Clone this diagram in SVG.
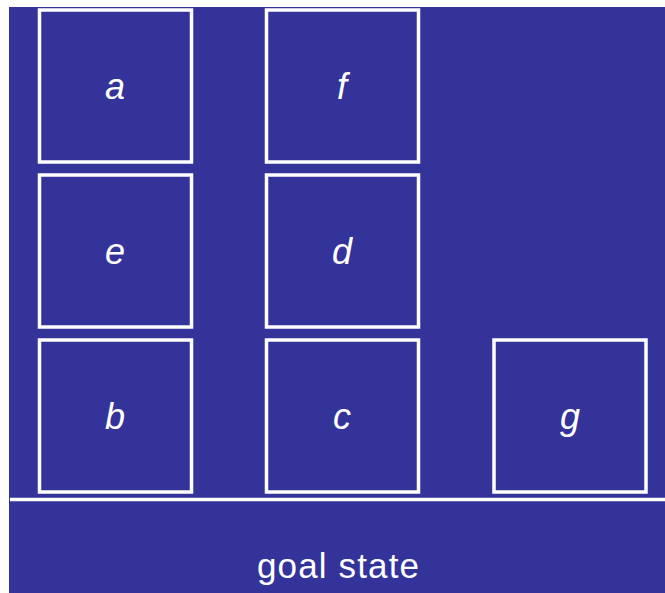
<svg xmlns="http://www.w3.org/2000/svg" width="665" height="593" viewBox="0 0 665 593">
<style>
.blk{fill:#333399;stroke:#ffffff;stroke-width:3.5}
.lbl{font-family:"Liberation Sans",Arial,sans-serif;font-style:italic;font-size:36px;fill:#ffffff;text-anchor:middle}
.cap{font-family:"Liberation Sans",Arial,sans-serif;font-size:35px;fill:#ffffff;text-anchor:middle}
</style>
<rect x="0" y="0" width="665" height="593" fill="#ffffff"/>
<rect x="9" y="7" width="656" height="586" fill="#333399"/>
<g id="a"><rect class="blk" x="39.5" y="10" width="152" height="152"/><text class="lbl" x="115" y="99">a</text></g>
<g id="f"><rect class="blk" x="266.5" y="10" width="152" height="152"/><text class="lbl" x="342" y="99">f</text></g>
<g id="e"><rect class="blk" x="39.5" y="175" width="152" height="152"/><text class="lbl" x="115" y="264">e</text></g>
<g id="d"><rect class="blk" x="266.5" y="175" width="152" height="152"/><text class="lbl" x="342" y="264">d</text></g>
<g id="b"><rect class="blk" x="39.5" y="340" width="152" height="152"/><text class="lbl" x="115" y="429">b</text></g>
<g id="c"><rect class="blk" x="266.5" y="340" width="152" height="152"/><text class="lbl" x="342" y="429">c</text></g>
<g id="g"><rect class="blk" x="494" y="340" width="152" height="152"/><text class="lbl" x="570" y="429">g</text></g>
<g id="connectors"></g>
<g id="ground"><line x1="10" y1="499.5" x2="665" y2="499.5" stroke="#ffffff" stroke-width="3.5"/><text class="cap" x="338" y="578" textLength="162" lengthAdjust="spacing">goal state</text></g>
</svg>
